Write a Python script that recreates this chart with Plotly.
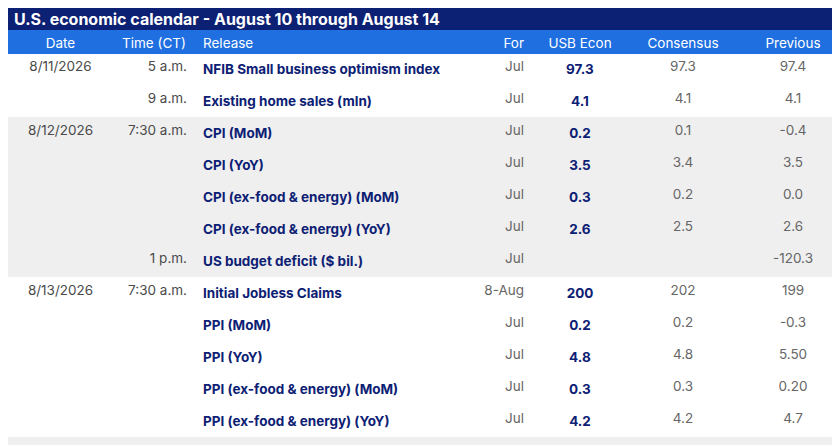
import plotly.graph_objects as go

title = "U.S. economic calendar - August 10 through August 14"
headers = ["Date", "Time\u00a0(CT)", "Release", "For", "USB\u00a0Econ", "Consensus", "Previous"]

dates = ["8/11/2026", "", "8/12/2026", "", "", "", "", "8/13/2026", "", "", "", "",
         "8/14/2026", "", "", "", ""]
times = ["5 a.m.", "9 a.m.", "7:30 a.m.", "", "", "", "1 p.m.", "7:30 a.m.", "", "", "", "",
         "7:30 a.m.", "", "", "9 a.m.", ""]
releases = ["NFIB Small business optimism index", "Existing home sales (mln)", "CPI (MoM)",
            "CPI (YoY)", "CPI (ex-food & energy) (MoM)", "CPI (ex-food & energy) (YoY)",
            "US budget deficit ($ bil.)", "Initial Jobless Claims", "PPI (MoM)", "PPI (YoY)",
            "PPI (ex-food & energy) (MoM)", "PPI (ex-food & energy) (YoY)", "Retail sales (MoM)",
            "Retail sales ex-auto (MoM)", "Retail sales control group (MoM)",
            "U. Mich. Consumer sentiment", "Business inventories (MoM)"]
period = ["Jul", "Jul", "Jul", "Jul", "Jul", "Jul", "Jul", "8-Aug", "Jul", "Jul", "Jul", "Jul",
          "Jul", "Jul", "Jul", "Aug P", "Jun"]
usb = ["97.3", "4.1", "0.2", "3.5", "0.3", "2.6", "", "200", "0.2", "4.8", "0.3", "4.2",
       "0.2", "0.2", "0.3", "54.5", ""]
consensus = ["97.3", "4.1", "0.1", "3.4", "0.2", "2.5", "", "202", "0.2", "4.8", "0.3", "4.2",
             "0.2", "0.2", "0.3", "54.1", ""]
previous = ["97.4", "4.1", "-0.4", "3.5", "0.0", "2.6", "-120.3", "199", "-0.3", "5.50", "0.20",
            "4.7", "0.2", "-0.2", "0.5", "55.2", "0.3"]
group = [0, 0, 1, 1, 1, 1, 1, 0, 0, 0, 0, 0, 1, 1, 1, 1, 1]

NAVY = "#0c2074"
BLUE = "#1f6fe0"
GRAY = "#4a4a4a"
row_fill = ["#efefef" if g else "white" for g in group]

nb = lambda col: [v.replace(" ", "\u00a0") for v in col]
bold = lambda col: ["<b>%s</b>" % v.replace(" ", "\u00a0") if v else "" for v in col]

fig = go.Figure(go.Table(
    columnwidth=[105, 82, 285, 52, 96, 110, 110],
    header=dict(
        values=headers,
        fill_color=BLUE,
        line_color=BLUE,
        align=["center", "center", "left", "right", "center", "center", "center"],
        font=dict(family="Inter", size=13.5, color="white"),
        height=23,
    ),
    cells=dict(
        values=[dates, nb(times), bold(releases), nb(period), bold(usb), consensus, previous],
        fill_color=[row_fill] * 7,
        line_color=[row_fill] * 7,
        align=["center", "right", "left", "right", "center", "center", "center"],
        font=dict(family="Inter", size=13.5,
                  color=[GRAY, GRAY, NAVY, "#666666", NAVY, "#666666", "#666666"]),
        height=23.5,
    ),
    domain=dict(x=[0, 1], y=[0, 1 - 22 / 445]),
))

fig.add_shape(type="rect", xref="paper", yref="paper", x0=0, x1=1,
              y0=1 - 22 / 445, y1=1, fillcolor=NAVY, line_width=0)
fig.add_annotation(text="<b>" + title + "</b>", xref="paper", yref="paper",
                   x=0.005, y=1 - 11 / 445, xanchor="left", yanchor="middle",
                   showarrow=False, font=dict(family="Inter", size=16, color="white"))

fig.update_layout(width=840, height=445, margin=dict(l=0, r=0, t=0, b=0),
                  paper_bgcolor="white")

fig.write_html("out.html")
